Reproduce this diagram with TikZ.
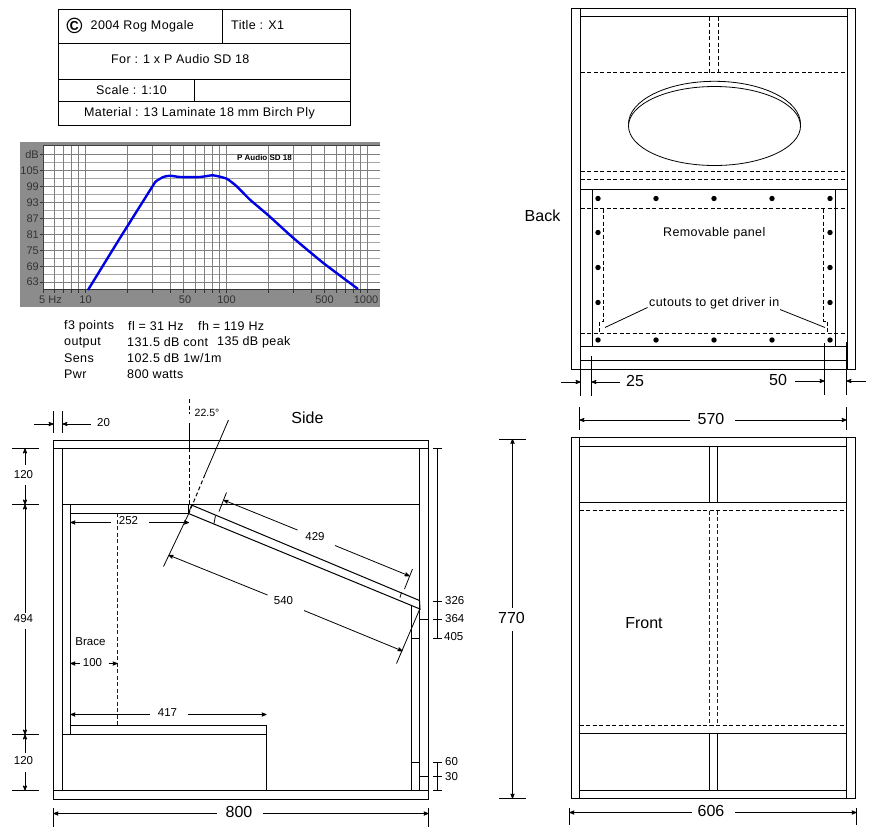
\documentclass[tikz,border=0pt]{standalone}
\usepackage{fontspec}
\setmainfont{Liberation Sans}
\newfontfamily\dwgfont[LetterSpace=3]{Liberation Sans}
\usetikzlibrary{arrows}

\tikzset{
lbl/.style={inner sep=0pt, anchor=west, font=\dwgfont\fontsize{12.5}{14}\selectfont},
dimLbl/.style={inner sep=0pt, font=\fontsize{11.5}{14}\selectfont},
bigLbl/.style={inner sep=0pt, font=\fontsize{16}{18}\selectfont},
axisLbl/.style={inner sep=0pt, text=black!80, font=\fontsize{11}{13}\selectfont},
wood/.style={line width=1pt, line cap=rect},
hid/.style={line width=1pt, dash pattern=on 4pt off 2.5pt},
hidBlue/.style={line width=1pt, blue, dash pattern=on 4pt off 2.5pt},
thinLn/.style={line width=0.8pt},
dimArr/.style={
	->,
	>=stealth',
	line width=0.8pt},
gridMaj/.style={line width=1pt, black!50},
gridMin/.style={line width=1.6pt, black!35}
}

\begin{document}
\begin{tikzpicture}[x=1pt,y=-1pt]
\useasboundingbox (0,0) rectangle (882,833);

%title block
\draw [wood] (58.5,9.5) rectangle (350.5,125.5);
\draw [wood] (58.5,43.5) -- (350.5,43.5);
\draw [wood] (58.5,79.5) -- (350.5,79.5);
\draw [wood] (58.5,101.5) -- (350.5,101.5);
\draw [wood] (222.5,9.5) -- (222.5,43.5);
\draw [wood] (194.5,79.5) -- (194.5,101.5);
\node [inner sep=0pt, font=\bfseries\fontsize{22}{22}\selectfont] (copysign) at (74.5,25.5) {©};
\node [lbl] (owner) at (90.5,26) {2004 Rog Mogale};
\node [lbl] (title) at (231,25) {Title : X1};
\node [lbl] (driver) at (111,59) {For : 1 x P Audio SD 18};
\node [lbl] (scale) at (96,90) {Scale : 1:10};
\node [lbl] (material) at (84,113) {Material : 13 Laminate 18 mm Birch Ply};

%response chart
\fill [black!45] (20,142) rectangle (380,307);
\fill [white] (43,146) rectangle (380,289.5);
\foreach \row in {162.5,178.5,...,282.5}
	\draw [gridMin] (43,\row) -- (380,\row);
\foreach \row in {154.5,170.5,...,282.5}
	\draw [gridMaj] (43,\row) -- (380,\row);
\foreach \f in {6,7,8,9,10,20,30,40,50,60,70,80,90,100,200,300,400,500,600,700,800,900,1000}
{
	\pgfmathsetmacro\gx{85.3+141*log10(\f/10)}
	\draw [gridMaj] (\gx,146) -- (\gx,289.5);
	\draw [line width=0.8pt, black!80] (\gx,289.5) -- (\gx,293);
}
\draw [line width=1.2pt, black!75] (43,145.5) -- (380,145.5);
\draw [line width=1pt, black!75] (43,145.5) -- (43,293);
\draw [line width=1.6pt, black!80] (43,289.5) -- (380,289.5);
\foreach \row/\val in {154.5/dB,170.5/105,186.5/99,202.5/93,218.5/87,234.5/81,250.5/75,266.5/69,282/63}
{
	\node [axisLbl, anchor=east] (y\val) at (39,\row) {\val};
	\draw [line width=0.8pt, black!80] (40,\row) -- (43,\row);
}
\node [axisLbl] (x5) at (50.5,300) {5 Hz};
\node [axisLbl] (x10) at (85.5,300) {10};
\node [axisLbl] (x50) at (185,300) {50};
\node [axisLbl] (x100) at (226.5,300) {100};
\node [axisLbl] (x500) at (324.5,300) {500};
\node [axisLbl] (x1000) at (366,300) {1000};
\node [inner sep=0pt, font=\bfseries\fontsize{8}{9}\selectfont] (brand) at (264.5,158) {P Audio SD 18};
\draw [line width=2.4pt, blue!90!black, line join=round]
	plot [smooth, tension=0.3] coordinates {(88,290) (120,238) (152.7,186) (156,181.3) (163.3,177) (170,175.7)
	(180,177) (200,177) (213,175.3) (226.7,178.7) (236.7,186.3) (250,199.7) (268.3,215.3)
	(293.3,238) (323.3,263) (358,289)};

%driver notes
\node [lbl] (n1) at (64,326.5) {f3 points};
\node [lbl] (n2) at (128,326.5) {fl = 31 Hz};
\node [lbl] (n3) at (198,326.5) {fh = 119 Hz};
\node [lbl] (n4) at (64,342.5) {output};
\node [lbl] (n5) at (127,342.5) {131.5 dB cont};
\node [lbl] (n6) at (217,342.5) {135 dB peak};
\node [lbl] (n7) at (64,358.5) {Sens};
\node [lbl] (n8) at (127,358.5) {102.5 dB 1w/1m};
\node [lbl] (n9) at (64,374.5) {Pwr};
\node [lbl] (n10) at (127,374.5) {800 watts};

%back view
\draw [wood] (571.5,8.5) rectangle (855.5,369.5);
\draw [wood] (580.5,8.5) -- (580.5,369.5);
\draw [wood] (847.5,8.5) -- (847.5,369.5);
\draw [wood] (580.5,16.5) -- (847.5,16.5);
\draw [hid] (709.5,16.5) -- (709.5,72.5);
\draw [hid] (718.5,16.5) -- (718.5,72.5);
\foreach \row in {72.5,171.5,179.5,208.5,333.5}
	\draw [hid] (580.5,\row) -- (847.5,\row);
\draw [wood] (580.5,189.5) -- (847.5,189.5);
\draw [wood] (592.5,189.5) -- (592.5,346.5);
\draw [wood] (835.5,189.5) -- (835.5,346.5);
\draw [wood] (580.5,346.5) -- (847.5,346.5);
\draw [wood] (580.5,360.5) -- (847.5,360.5);
\draw [line width=1.6pt] (847.2,342) -- (847.2,369.5);
\draw [thinLn] (714.5,126) ellipse [x radius=86, y radius=39.5];
\draw [thinLn] (628.5,124) arc [start angle=180, end angle=360, x radius=86, y radius=42.7];
\draw [hid] (603.5,208.5) -- (603.5,321) -- (599.5,321) -- (599.5,333.5);
\draw [hid] (823.5,208.5) -- (823.5,321) -- (827.5,321) -- (827.5,333.5);
\foreach \hx/\hy in {598/198.5,656/198.5,714/198.5,772/198.5,830/198.5,
	598/232.5,598/267.5,598/302.5,830/232.5,830/267.5,830/302.5,
	598/340,656/340,714/340,772/340,830/340}
	\fill (\hx,\hy) circle (2.7);
\node [bigLbl] (back) at (542.5,216) {Back};
\node [lbl] (removable) at (663,233) {Removable panel};
\node [lbl] (cutouts) at (649,303.5) {cutouts to get driver in};
\draw [thinLn] (647.5,307.5) -- (605,327.5);
\draw [thinLn] (780,309.5) -- (825,327.5);

%back view dimensions
\draw [thinLn] (580.5,360) -- (580.5,396);
\draw [thinLn] (591.5,356) -- (591.5,396);
\draw [thinLn] (824.5,343) -- (824.5,395);
\draw [thinLn] (846.5,369) -- (846.5,395);
\draw [dimArr] (561,382) -- (580.5,382);
\draw [dimArr] (620,382) -- (591.5,382);
\node [bigLbl] (d25) at (635,381) {25};
\draw [dimArr] (795,381) -- (824.5,381);
\draw [dimArr] (866,381) -- (846.5,381);
\node [bigLbl] (d50) at (778,380) {50};
\draw [thinLn] (579.5,407) -- (579.5,430);
\draw [thinLn] (846.5,407) -- (846.5,430);
\draw [dimArr] (690,420) -- (579.5,420);
\draw [dimArr] (735,420) -- (846.5,420);
\node [bigLbl] (d570) at (711,419) {570};

%front view
\draw [wood] (571.5,437.5) rectangle (855.5,798.5);
\draw [wood] (579.5,437.5) -- (579.5,798.5);
\draw [wood] (846.5,437.5) -- (846.5,798.5);
\foreach \row in {446.5,502.5,733.5,790.5}
	\draw [wood] (579.5,\row) -- (846.5,\row);
\draw [hid] (579.5,510.5) -- (846.5,510.5);
\draw [hid] (579.5,725.5) -- (846.5,725.5);
\foreach \bx in {709.5,717.5}
{
	\draw [wood] (\bx,446.5) -- (\bx,502.5);
	\draw [wood] (\bx,733.5) -- (\bx,790.5);
	\draw [hidBlue] (\bx,510.5) -- (\bx,725.5);
}
\node [bigLbl] (front) at (644,623) {Front};
\draw [thinLn] (569.5,808) -- (569.5,825);
\draw [thinLn] (856.5,808) -- (856.5,825);
\draw [dimArr] (692,812.5) -- (569.5,812.5);
\draw [dimArr] (735,812.5) -- (856.5,812.5);
\node [bigLbl] (d606) at (711,811) {606};

%height dimension
\draw [thinLn] (499,439) -- (526,439);
\draw [thinLn] (499,798.5) -- (526,798.5);
\draw [dimArr] (512.5,608) -- (512.5,439);
\draw [dimArr] (512.5,631) -- (512.5,798.5);
\node [bigLbl] (d770) at (511.5,618) {770};

%side view
\draw [wood] (53.5,440.5) rectangle (428.5,799.5);
\draw [wood] (53.5,448.5) -- (428.5,448.5);
\draw [wood] (62.5,448.5) -- (62.5,790.5);
\draw [wood] (419.5,448.5) -- (419.5,790.5);
\draw [wood] (53.5,790.5) -- (428.5,790.5);
\draw [wood] (62.5,504.5) -- (419.5,504.5);
\draw [wood] (70.5,513.5) -- (188.5,513.5);
\draw [wood] (70.5,504.5) -- (70.5,734.5);
\draw [wood] (70.5,725.5) -- (266.5,725.5);
\draw [wood] (62.5,734.5) -- (266.5,734.5);
\draw [wood] (266.5,725.5) -- (266.5,790.5);
\draw [hidBlue] (117.5,513) -- (117.5,725.5);
\draw [wood] (188.5,504.5) -- (188.5,513.5);
\draw [thinLn] (191.5,505) -- (188.5,513.5);
\draw [wood] (191.5,505) -- (419.5,600.5) -- (420,609) -- (188.5,513.5);
\draw [wood] (411.5,606) -- (411.5,790.5);
\draw [wood] (411.5,638.5) -- (419.5,638.5);
\draw [wood] (419.5,619.5) -- (428.5,619.5);
\draw [wood] (411.5,762.5) -- (419.5,762.5);
\draw [wood] (419.5,776.5) -- (428.5,776.5);
\node [bigLbl] (side) at (307.5,418) {Side};

%angle lines
\draw [hid] (189.5,399) -- (189.5,414);
\draw [thinLn] (189.5,423) -- (189.5,448);
\draw [hid] (189.5,448) -- (189.5,504);
\draw [thinLn] (228.5,420) -- (205,474.5);
\draw [hid] (205,474.5) -- (189,513);
\draw [thinLn] (189,513) -- (163.5,566.5);
\node [inner sep=0pt, font=\fontsize{10.5}{12}\selectfont] (angle) at (207,413) {22.5°};

%side view dimensions
\draw [thinLn] (53.5,411) -- (53.5,433);
\draw [thinLn] (62.5,411) -- (62.5,433);
\draw [dimArr] (34,424) -- (53.5,424);
\draw [dimArr] (90.5,424) -- (62.5,424);
\node [dimLbl] (d20) at (103.5,423) {20};

\foreach \row in {448.5,504.5,734.5,790.5}
	\draw [thinLn] (12,\row) -- (38.5,\row);
\draw [dimArr] (25,465) -- (25,448.5);
\draw [dimArr] (25,485) -- (25,504.5);
\node [dimLbl] (d120a) at (23.5,475) {120};
\draw [dimArr] (25,613) -- (25,504.5);
\draw [dimArr] (25,629) -- (25,734.5);
\node [dimLbl] (d494) at (23.5,618.5) {494};
\draw [dimArr] (25,753) -- (25,734.5);
\draw [dimArr] (25,772) -- (25,790.5);
\node [dimLbl] (d120b) at (23.5,761) {120};

\draw [dimArr] (110.5,522.5) -- (70.5,522.5);
\draw [dimArr] (149,522.5) -- (189,522.5);
\node [dimLbl] (d252) at (128.5,521) {252};
\node [dimLbl] (brace) at (90.5,642) {Brace};
\draw [dimArr] (80,663.5) -- (70.5,663.5);
\draw [dimArr] (108.5,663.5) -- (117.5,663.5);
\node [dimLbl] (d100) at (92.5,662.5) {100};
\draw [dimArr] (150,714.5) -- (70.5,714.5);
\draw [dimArr] (187.5,714.5) -- (266.5,714.5);
\node [dimLbl] (d417) at (167.5,713) {417};

\draw [thinLn] (53.5,808) -- (53.5,827);
\draw [thinLn] (428.5,808) -- (428.5,827);
\draw [dimArr] (216.5,813.5) -- (53.5,813.5);
\draw [dimArr] (262.5,813.5) -- (428.5,813.5);
\node [bigLbl] (d800) at (239,812) {800};

%slanted panel dimensions
\draw [dimArr] (267.5,595) -- (168.5,555);
\draw [dimArr] (304,610.5) -- (402.5,651);
\node [dimLbl] (d540) at (283.5,601) {540};
\draw [thinLn] (420,608.5) -- (396.5,663.5);
\draw [dimArr] (297.5,530) -- (223.5,500);
\draw [dimArr] (335,545.5) -- (409.5,576);
\node [dimLbl] (d429) at (315,537) {429};
\draw [thinLn] (226.5,492.5) -- (219,511.5);
\draw [thinLn] (215.5,515.5) -- (214,523.5);
\draw [thinLn] (412.5,569) -- (404.5,589);
\draw [thinLn] (401.5,592.5) -- (400,597.5);

%panel height ladder
\draw [thinLn] (437.5,448.5) -- (437.5,638.5);
\foreach \row in {448.5,601.5,619.5,638.5}
	\draw [thinLn] (433,\row) -- (442,\row);
\node [dimLbl, anchor=west] (d326) at (445,601) {326};
\node [dimLbl, anchor=west] (d364) at (445,619) {364};
\node [dimLbl, anchor=west] (d405) at (444,637) {405};
\draw [thinLn] (437.5,762.5) -- (437.5,790.5);
\foreach \row in {762.5,776.5,790.5}
	\draw [thinLn] (433,\row) -- (442,\row);
\node [dimLbl, anchor=west] (d60) at (445,762) {60};
\node [dimLbl, anchor=west] (d30) at (445,776.5) {30};

\end{tikzpicture}
\end{document}
